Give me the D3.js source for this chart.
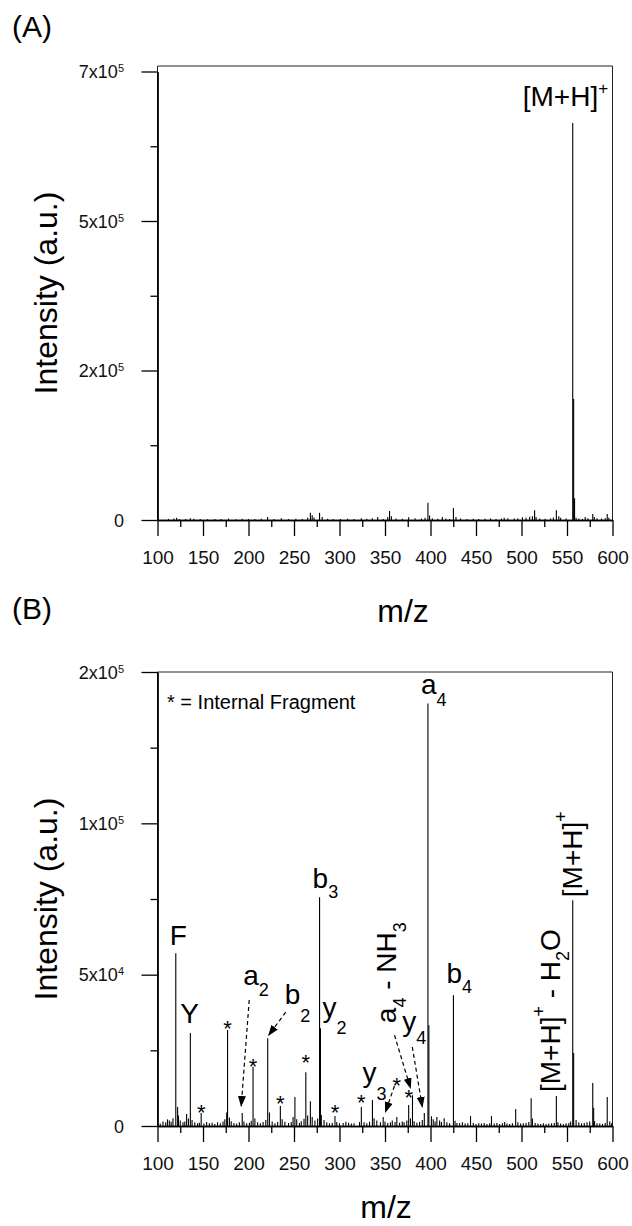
<!DOCTYPE html>
<html>
<head>
<meta charset="utf-8">
<script src="https://cdn.jsdelivr.net/npm/d3@7"></script>
<style>
  body { margin: 0; background: #fff; }
  svg { display: block; font-family: "Liberation Sans", Arial, sans-serif; }
  text { white-space: pre; }
</style>
</head>
<body>
<svg id="chart" width="632" height="1226"></svg>
<script>
// ---------- data ----------
const mzMajor = [100, 150, 200, 250, 300, 350, 400, 450, 500, 550, 600];
const mzMinor = [125, 175, 225, 275, 325, 375, 425, 475, 525, 575];

// panel A axis labels (as printed on the original figure)
const yTicksA = [0, 200000, 400000, 600000];
const yTickTextA = ["0", "2x10", "5x10", "7x10"];
const yTickExpA = ["", "5", "5", "5"];
const yMinorA = [100000, 300000, 500000];

// panel B axis labels
const yTicksB = [0, 50000, 100000, 150000];
const yTickTextB = ["0", "5x10", "1x10", "2x10"];
const yTickExpB = ["", "4", "5", "5"];
const yMinorB = [25000, 75000, 125000];

// panel A - full scan spectrum
const peakMzA = [556.3, 557.3, 558.3, 397.2, 425.2, 355, 268, 278.1, 514.4, 538.3, 578.3, 594.2,
  570, 342, 376, 413, 501, 481, 221, 121, 136, 324];
const peakIntA = [531000, 162000, 29000, 23000, 16000, 12000, 9800, 9800, 13000, 13000, 8000, 8000,
  4000, 4000, 3600, 4000, 3600, 3000, 4000, 3000, 2500, 2500];
const noiseMzA = [112, 118, 124, 131, 140, 147, 155, 163, 170, 178, 186, 193, 200, 207, 214, 228, 236,
  244, 252, 259, 265, 270, 272, 281, 287, 293, 301, 309, 316, 330, 336, 348, 353, 357, 362, 369, 383,
  390, 394, 399, 402, 408, 417, 421, 428, 433, 440, 447, 453, 460, 466, 472, 478, 485, 492, 496, 505,
  509, 512, 516, 520, 526, 532, 535, 541, 543, 549, 560, 563, 567, 573, 580, 583, 588, 592, 596];
const noiseIntA = [1500, 2000, 1500, 1200, 1800, 1400, 1000, 1500, 1200, 1800, 1000, 1600, 1200, 1500,
  1800, 1500, 2500, 1200, 1800, 1500, 3000, 6500, 3500, 4000, 1800, 1500, 1200, 1800, 1500, 1800, 2500,
  1500, 4000, 5000, 2000, 1800, 2500, 2000, 3000, 6000, 2500, 1800, 2000, 1500, 4000, 2000, 1500, 1800,
  1500, 1800, 2000, 1500, 2000, 2500, 2000, 2500, 3000, 4500, 5000, 4000, 2000, 1800, 2000, 3500, 5000,
  3000, 2000, 3000, 2000, 1500, 2500, 4000, 2500, 2000, 2500, 3000];

// panel B - MS/MS of the protonated peptide, assigned ions
const ionNames = ["F", "Y", "a_2", "b_2", "b_3", "y_2", "y_3", "a_4 - NH_3", "y_4", "a_4", "b_4",
  "[M+H]^+ - H_2O", "[M+H]^+"];
const ionMz = [120.1, 136.1, 193.1, 221.1, 278.1, 279.1, 336.2, 380.2, 393.2, 397.2, 425.2, 538.3, 556.3];
const ionInt = [57100, 30700, 4300, 29000, 75600, 32300, 8600, 10200, 4300, 139600, 43200, 9900, 74600];

// internal fragments (marked with *)
const fragMz = [148, 177, 205, 235, 263, 295, 324, 363, 376];
const fragInt = [4300, 31700, 19500, 6600, 17800, 3300, 6300, 3000, 6900];

// other peaks in panel B
const otherMzB = [398.2, 557.3, 578.3, 594.2, 579.3, 510.6, 493.6, 467, 444, 251, 268, 122.1, 132, 176];
const otherIntB = [33300, 24100, 14200, 9600, 6000, 9200, 5600, 3300, 3300, 9600, 8200, 6300, 4000, 4500];
const noiseMzB = [103, 106, 109, 111, 113, 115, 117, 123, 125, 128, 130, 134, 138, 141, 144, 146, 151,
  154, 157, 160, 163, 166, 169, 172, 174, 179, 181, 184, 187, 190, 195, 198, 201, 203, 207, 210, 213, 216,
  219, 223, 226, 229, 232, 237, 240, 244, 247, 249, 253, 256, 258, 261, 265, 270, 273, 276, 280, 283, 286,
  289, 292, 297, 300, 304, 307, 310, 313, 316, 322, 327, 330, 333, 338, 341, 345, 348, 350, 353, 356, 358,
  361, 366, 369, 371, 374, 378, 382, 385, 388, 391, 401, 403, 405, 407, 410, 412, 415, 418, 421, 427, 429,
  432, 435, 438, 441, 447, 450, 453, 456, 459, 462, 465, 470, 473, 476, 479, 481.5, 484, 487, 490, 496, 499,
  502, 505, 508, 512, 515, 518, 521, 524, 527, 530, 533, 536, 540, 543, 546, 549, 552, 554, 560, 563, 566,
  569, 572, 575, 580.3, 583, 586, 589, 592, 597, 599];
const noiseIntB = [800, 1500, 1200, 2200, 1800, 1400, 2600, 3500, 1800, 1200, 1500, 2500, 2000, 1200, 900,
  1100, 800, 1300, 900, 1100, 700, 1200, 900, 1500, 2200, 2800, 1600, 1000, 800, 1200, 1500, 900, 1100,
  1700, 2500, 1200, 900, 1300, 2000, 4500, 1500, 900, 1300, 2200, 1400, 1000, 1300, 3000, 2200, 1000, 1600,
  2400, 3500, 3000, 1800, 2500, 3600, 2000, 1200, 900, 1100, 1300, 900, 1000, 1400, 1100, 800, 900, 1300,
  1200, 900, 1400, 2600, 1800, 1200, 3000, 1500, 1000, 1200, 1800, 1300, 1100, 1500, 1200, 1800, 2500,
  1600, 1100, 1300, 2000, 3200, 2200, 1500, 3000, 1800, 1300, 2600, 1200, 900, 1700, 1000, 900, 1200, 800,
  900, 1000, 700, 900, 800, 1000, 700, 900, 800, 1000, 700, 900, 1300, 800, 700, 900, 1200, 800, 900, 1000,
  1300, 2500, 1000, 800, 700, 900, 700, 800, 900, 1000, 1200, 800, 700, 900, 1000, 1500, 2000, 1200, 900,
  1000, 1200, 1500, 1600, 900, 800, 700, 1000, 1500, 900];

// ---------- layout of annotations (pixel offsets from the peak top) ----------
// dx, dy: label start; sub/sup: shift of small text; rot: vertical label; arrow: [x1, y1, x2, y2]
const ionLayout = [
  { dx: -6, dy: -8 },
  { dx: -10, dy: -10 },
  { dx: 1, dy: -128, sub: 11, arrow: [7, -113, -1, -7] },
  { dx: 17, dy: -34, sub: 18, arrow: [18, -26, 1, -3] },
  { dx: -7, dy: -9, sub: 10 },
  { dx: 2, dy: -11, sub: 17 },
  { dx: -10, dy: -18, sub: 18, arrow: [22, -14, 13, 12] },
  { dx: -16, dy: -72, sub: 10, rot: true, arrow: [-18, -60, -2, -7] },
  { dx: -22, dy: -82, sub: 13, arrow: [-12, -66, -2, -6] },
  { dx: -7, dy: -9, sub: 12 },
  { dx: -7, dy: -12, sub: 10 },
  { dx: 4, dy: -4, sub: 9, sup: 15, rot: true },
  { dx: 9, dy: -3, sup: 15, rot: true }
];
const starLift = [6, 7, 6, 8, 15, 9, 10, 37, 13];

// ---------- drawing ----------
const svg = d3.select("#chart");
const x = d3.scaleLinear().domain([100, 600]).range([157.5, 612.5]);

// writes "a_4" / "[M+H]^+" style strings as tspans
function richText(sel, str, big, small, sub, sup) {
  let level = 0;
  let i = 0;
  while (i < str.length) {
    const c = str[i];
    if ((c === "_" || c === "^") && i + 1 < str.length) {
      const s = c === "_" ? sub : -sup;
      sel.append("tspan").attr("dy", s - level).attr("font-size", small).text(str[i + 1]);
      level = s;
      i += 2;
    } else {
      let j = i;
      while (j < str.length && str[j] !== "_" && str[j] !== "^") j++;
      sel.append("tspan").attr("dy", -level).attr("font-size", big).text(str.slice(i, j));
      level = 0;
      i = j;
    }
  }
}

function zip(mz, val) {
  return mz.map((m, i) => ({ mz: m, int: val[i] }));
}

function drawPanel(cfg) {
  const y = d3.scaleLinear().domain(cfg.yDomain).range(cfg.yRange);
  const g = svg.append("g");

  // box
  g.append("path")
    .attr("d", `M${x(100)},${y(0)}V${cfg.frameTop}H${x(600)}V${y(0)}`)
    .attr("fill", "none")
    .attr("stroke", "#222")
    .attr("stroke-width", 1);

  // sticks
  g.append("g")
    .selectAll("line")
    .data(cfg.peaks)
    .join("line")
    .attr("x1", d => x(d.mz))
    .attr("x2", d => x(d.mz))
    .attr("y1", y(0))
    .attr("y2", d => y(d.int))
    .attr("stroke", "#000")
    .attr("stroke-width", 1.1);

  // x axis, long ticks with labels + short ticks
  const xAxis = g.append("g")
    .attr("transform", `translate(0,${y(0)})`)
    .call(d3.axisBottom(x).tickValues(mzMajor).tickSize(16).tickSizeOuter(0).tickPadding(15));
  g.append("g")
    .attr("transform", `translate(0,${y(0)})`)
    .call(d3.axisBottom(x).tickValues(mzMinor).tickSize(7).tickSizeOuter(0).tickFormat(""));

  // y axis
  g.append("g")
    .attr("transform", `translate(${x(100)},0)`)
    .call(d3.axisLeft(y).tickValues(cfg.yTicks).tickSize(16).tickSizeOuter(0).tickFormat(""));
  g.append("g")
    .attr("transform", `translate(${x(100)},0)`)
    .call(d3.axisLeft(y).tickValues(cfg.yMinor).tickSize(7).tickSizeOuter(0).tickFormat(""));

  g.selectAll(".tick line, .domain").attr("stroke", "#000").attr("stroke-width", 1.3);
  xAxis.attr("font-family", null).attr("font-size", 19);
  xAxis.selectAll("text").attr("fill", "#111");

  // y tick labels with exponent
  const yl = g.append("g")
    .selectAll("text")
    .data(cfg.yTicks)
    .join("text")
    .attr("x", 124)
    .attr("y", d => y(d) + 6.5)
    .attr("text-anchor", "end")
    .attr("fill", "#111");
  yl.append("tspan").attr("font-size", 18).text((d, i) => cfg.yText[i]);
  yl.append("tspan").attr("font-size", 11).attr("dy", -6).text((d, i) => cfg.yExp[i]);

  // titles
  g.append("text")
    .attr("transform", `translate(57,${(cfg.frameTop + y(0)) / 2}) rotate(-90)`)
    .attr("text-anchor", "middle")
    .attr("font-size", 32)
    .text("Intensity (a.u.)");
  g.append("text")
    .attr("x", cfg.xTitleX)
    .attr("y", cfg.xTitleY)
    .attr("text-anchor", "middle")
    .attr("font-size", 32)
    .text("m/z");
  g.append("text")
    .attr("x", 12)
    .attr("y", cfg.tagY)
    .attr("font-size", 30)
    .text(cfg.tag);

  return { g, y };
}

// ----- panel A -----
const peaksA = zip(noiseMzA, noiseIntA).concat(zip(peakMzA, peakIntA));
const A = drawPanel({
  yDomain: [0, 600000], yRange: [520, 71.5], frameTop: 66,
  yTicks: yTicksA, yMinor: yMinorA, yText: yTickTextA, yExp: yTickExpA,
  peaks: peaksA, xTitleX: 403, xTitleY: 622, tag: "(A)", tagY: 37
});
const mh = A.g.append("text")
  .attr("x", x(peakMzA[0]) - 50)
  .attr("y", A.y(peakIntA[0]) - 17);
richText(mh, "[M+H]^+", 28, 17, 0, 12);

// ----- panel B -----
const peaksB = zip(noiseMzB, noiseIntB)
  .concat(zip(otherMzB, otherIntB))
  .concat(zip(fragMz, fragInt))
  .concat(zip(ionMz, ionInt));
const B = drawPanel({
  yDomain: [0, 150000], yRange: [1126, 672], frameTop: 672,
  yTicks: yTicksB, yMinor: yMinorB, yText: yTickTextB, yExp: yTickExpB,
  peaks: peaksB, xTitleX: 386, xTitleY: 1218, tag: "(B)", tagY: 619
});
const yB = B.y;

// arrow head
svg.append("defs").append("marker")
  .attr("id", "head")
  .attr("markerUnits", "userSpaceOnUse")
  .attr("markerWidth", 11)
  .attr("markerHeight", 8)
  .attr("refX", 10)
  .attr("refY", 4)
  .attr("orient", "auto")
  .append("path")
  .attr("d", "M0,0L11,4L0,8Z")
  .attr("fill", "#000");

ionNames.forEach((name, i) => {
  const L = ionLayout[i];
  const px = x(ionMz[i]);
  const py = yB(ionInt[i]);
  const t = B.g.append("text").attr("fill", "#000");
  if (L.rot) {
    t.attr("transform", `translate(${px + L.dx},${py + L.dy}) rotate(-90)`);
  } else {
    t.attr("x", px + L.dx).attr("y", py + L.dy);
  }
  richText(t, name, 28, 18, L.sub || 0, L.sup || 0);

  if (L.arrow) {
    B.g.append("line")
      .attr("x1", px + L.arrow[0])
      .attr("y1", py + L.arrow[1])
      .attr("x2", px + L.arrow[2])
      .attr("y2", py + L.arrow[3])
      .attr("stroke", "#000")
      .attr("stroke-width", 1.2)
      .attr("stroke-dasharray", "4,3")
      .attr("marker-end", "url(#head)");
  }
});

// internal fragment stars
B.g.append("g")
  .selectAll("text")
  .data(fragMz)
  .join("text")
  .attr("x", d => x(d))
  .attr("y", (d, i) => yB(fragInt[i]) - starLift[i] + 13)
  .attr("text-anchor", "middle")
  .attr("font-size", 22)
  .text("*");

B.g.append("text")
  .attr("x", 167)
  .attr("y", 709)
  .attr("font-size", 20)
  .text("* = Internal Fragment");
</script>
</body>
</html>
